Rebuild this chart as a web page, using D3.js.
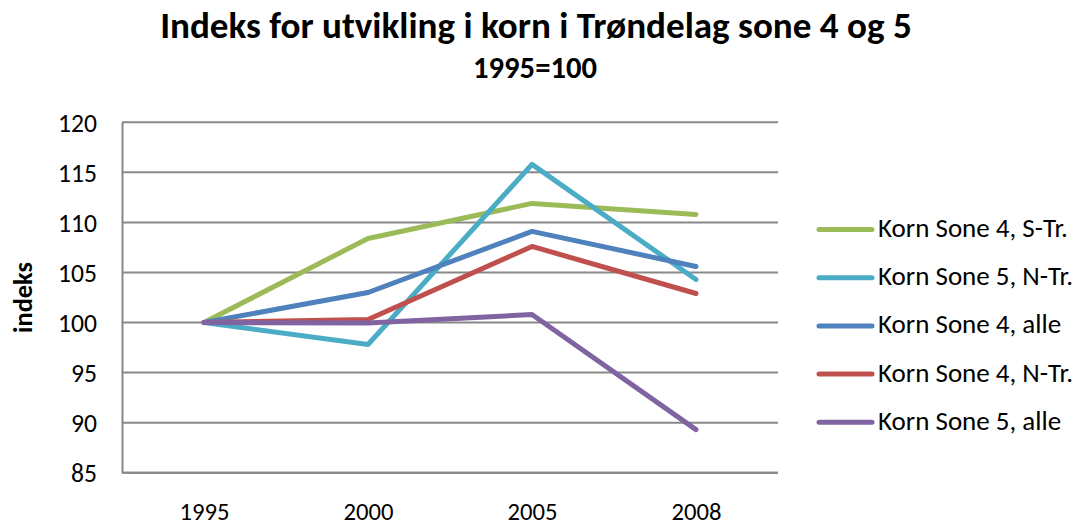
<!DOCTYPE html>
<html>
<head>
<meta charset="utf-8">
<script src="https://cdn.jsdelivr.net/npm/d3@7"></script>
<style>
  body { margin: 0; background: #fff; }
  text { font-family: Carlito, Lato, "Open Sans", sans-serif; fill: #000; }
</style>
</head>
<body>
<script>
// categories (x axis)
var years = ['1995', '2000', '2005', '2008'];

// series names and values
var seriesNames = ['Korn Sone 4, S-Tr.', 'Korn Sone 5, N-Tr.', 'Korn Sone 4, alle', 'Korn Sone 4, N-Tr.', 'Korn Sone 5, alle'];
var sone4STr = [100, 108.4, 111.9, 110.8];
var sone5NTr = [100, 97.8, 115.8, 104.3];
var sone4Alle = [100, 103.0, 109.1, 105.6];
var sone4NTr = [100, 100.3, 107.6, 102.9];
var sone5Alle = [100, 99.95, 100.8, 89.3];
var seriesColors = ['#9bbb59', '#4bacc6', '#4f81bd', '#c0504d', '#8064a2'];

// y ticks
var yTicks = [85, 90, 95, 100, 105, 110, 115, 120];

var width = 1075, height = 526;

var svg = d3.select('body').append('svg')
    .attr('width', width)
    .attr('height', height);

// scale a group of texts so that one sample text gets the wanted width
function fitWidth(sel, sampleNode, wanted) {
    var fs = 20;
    sel.style('font-size', fs + 'px');
    var w = sampleNode.getComputedTextLength();
    sel.style('font-size', (fs * wanted / w) + 'px');
}

// plot area
var x = d3.scalePoint()
    .domain(years)
    .range([122, 778])
    .padding(0.5);

var y = d3.scaleLinear()
    .domain([85, 120])
    .range([472.7, 122.3]);

// gridlines
svg.append('g')
    .selectAll('line')
    .data(yTicks)
    .enter().append('line')
        .attr('x1', 122)
        .attr('x2', 778)
        .attr('y1', function(d) { return y(d); })
        .attr('y2', function(d) { return y(d); })
        .attr('stroke', '#888')
        .attr('stroke-width', 2);

// y axis
var yAxis = svg.append('g')
    .attr('transform', 'translate(122,0)')
    .call(d3.axisLeft(y).tickValues(yTicks).tickSize(0).tickPadding(25));
yAxis.select('.domain').attr('stroke', '#888').attr('stroke-width', 2);
var yLabels = yAxis.selectAll('text').attr('dy', '0.35em');
fitWidth(yLabels, yLabels.filter(function(d) { return d === 105; }).node(), 39);

// x axis
var xAxis = svg.append('g')
    .attr('transform', 'translate(0,472.7)')
    .call(d3.axisBottom(x).tickSize(0));
xAxis.select('.domain').attr('stroke', '#888').attr('stroke-width', 2)
    .attr('d', 'M122,0H778');
var xLabels = xAxis.selectAll('text').attr('y', 47.5).attr('dy', 0);
fitWidth(xLabels, xLabels.node(), 50);

// lines
var allSeries = [sone4STr, sone5NTr, sone4Alle, sone4NTr, sone5Alle];
var line = d3.line()
    .x(function(d, i) { return x(years[i]); })
    .y(function(d) { return y(d); });

svg.append('g')
    .selectAll('path')
    .data(allSeries)
    .enter().append('path')
        .attr('d', line)
        .attr('fill', 'none')
        .attr('stroke', function(d, i) { return seriesColors[i]; })
        .attr('stroke-width', 5)
        .attr('stroke-linecap', 'round')
        .attr('stroke-linejoin', 'round');

// legend
var legend = svg.append('g')
    .selectAll('g')
    .data(seriesNames)
    .enter().append('g')
        .attr('transform', function(d, i) { return 'translate(0,' + (229.5 + i * 48.2) + ')'; });

legend.append('line')
    .attr('x1', 819)
    .attr('x2', 872)
    .attr('stroke', function(d, i) { return seriesColors[i]; })
    .attr('stroke-width', 5)
    .attr('stroke-linecap', 'round');

var legendText = legend.append('text')
    .attr('x', 878)
    .attr('y', 7.5)
    .text(function(d) { return d; });
fitWidth(legendText, legendText.node(), 190);

// titles
var title = svg.append('text')
    .attr('x', 536)
    .attr('y', 38)
    .attr('text-anchor', 'middle')
    .style('font-weight', 'bold')
    .text('Indeks for utvikling i korn i Trøndelag sone 4 og 5');
fitWidth(title, title.node(), 752);

var subtitle = svg.append('text')
    .attr('x', 535)
    .attr('y', 78)
    .attr('text-anchor', 'middle')
    .style('font-weight', 'bold')
    .text('1995=100');
fitWidth(subtitle, subtitle.node(), 124);

var yTitle = svg.append('text')
    .attr('transform', 'translate(32,297.5) rotate(-90)')
    .attr('text-anchor', 'middle')
    .style('font-weight', 'bold')
    .text('indeks');
fitWidth(yTitle, yTitle.node(), 71);
</script>
</body>
</html>
